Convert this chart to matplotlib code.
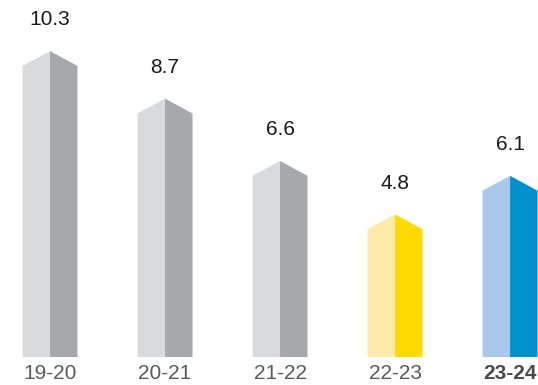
import matplotlib
matplotlib.use("Agg")
import matplotlib.pyplot as plt

plt.rcParams["font.family"] = ["Liberation Sans", "DejaVu Sans"]

# ---------------------- DATA ----------------------
seasons = ["19-20", "20-21", "21-22", "22-23", "23-24"]
values = [10.3, 8.7, 6.6, 4.8, 6.1]
light_faces = ["#d9dadc", "#d9dadc", "#d9dadc", "#feeaa9", "#a7c8e9"]
dark_faces = ["#a7a8ab", "#a7a8ab", "#a7a8ab", "#fedb00", "#0091cf"]

HALF_W = 0.239   # half width of a bar in x units
ROOF = 0.5       # drop from peak to shoulders


def draw_prism(ax, x, v, light, dark):
    # left face
    ax.fill([x - HALF_W, x, x, x - HALF_W],
            [0, 0, v, v - ROOF], color=light, lw=0)
    # right face
    ax.fill([x, x + HALF_W, x + HALF_W, x],
            [0, 0, v - ROOF, v], color=dark, lw=0)


fig = plt.figure(figsize=(5.38, 3.85), dpi=100)
ax = fig.add_axes([0, 0, 1, 1])

last = len(seasons) - 1
for i, (v, lc, dc) in enumerate(zip(values, light_faces, dark_faces)):
    draw_prism(ax, i, v, lc, dc)
    ax.text(i, v + 1.05, f"{v}", ha="center", va="center",
            fontsize=15, color="#1a1a1a")
    ax.text(i, -0.55, seasons[i], ha="center", va="center", fontsize=15,
            color="#4a4a4a" if i == last else "#5a5a5a",
            fontweight="bold" if i == last else "normal")

ax.set_xlim(-0.435, 4.243)
ax.set_ylim(-0.943, 12.02)
ax.axis("off")

fig.savefig("out.png", dpi=100)
plt.close(fig)
